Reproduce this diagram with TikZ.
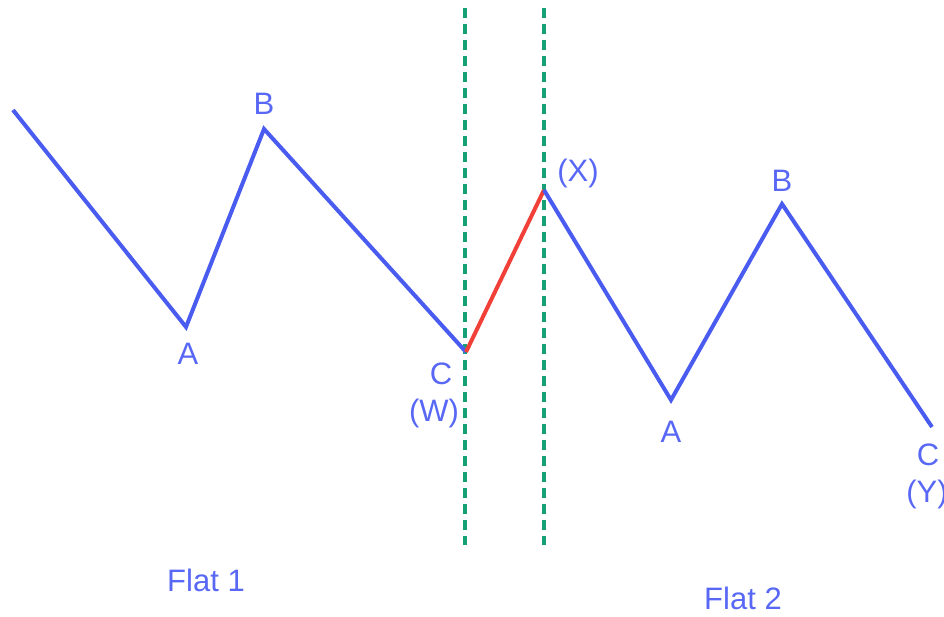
\documentclass[tikz,border=0pt]{standalone}
\usepackage{fontspec}
\setmainfont{Liberation Sans}
\usetikzlibrary{positioning}

\definecolor{waveblue}{RGB}{74,92,240}
\definecolor{labelblue}{RGB}{88,104,245}
\definecolor{wavered}{RGB}{240,64,56}
\definecolor{splitgreen}{RGB}{22,160,118}

\begin{document}
\begin{tikzpicture}[
        x=1pt, y=-1pt,
        wave/.style={draw=waveblue, line width=4pt, line join=miter},
        link/.style={draw=wavered, line width=4pt},
        split/.style={draw=splitgreen, line width=4pt, dash pattern=on 10pt off 6pt},
        lbl/.style={text=labelblue, font=\fontsize{31}{33}\selectfont, inner sep=0pt}
        ]
        \useasboundingbox (0,0) rectangle (944,617);

        % wave points
        \coordinate (s) at (13,110);
        \coordinate (a1) at (186,327);
        \coordinate (b1) at (264,129);
        \coordinate (w) at (466,352);
        \coordinate (x) at (544,190);
        \coordinate (a2) at (671,400);
        \coordinate (b2) at (782,204);
        \coordinate (y) at (932,427);

        % split lines
        \coordinate (l1top) at (465,8);
        \coordinate (l1bot) at (465,545);
        \coordinate (l2top) at (544,8);
        \coordinate (l2bot) at (544,545);
        \path[split] (l1top) -- (l1bot);
        \path[split] (l2top) -- (l2bot);

        \path[wave] (s) -- (a1) -- (b1) -- (w);
        \path[link] (w) -- (x);
        \path[wave] (x) -- (a2) -- (b2) -- (y);

        % labels
        \node[lbl] (lb1) at (264,104) {B};
        \node[lbl] (la1) at (188,354) {A};
        \node[lbl] (lc1) at (441,374) {C};
        \node[lbl] (lw) at (434,413) {(W)};
        \node[lbl] (lx) at (578,173) {(X)};
        \node[lbl] (lb2) at (782,181) {B};
        \node[lbl] (la2) at (671,432) {A};
        \node[lbl] (lc2) at (928,455) {C};
        \node[lbl] (ly) at (927,494) {(Y)};
        \node[lbl] (flat1) at (206,580) {Flat 1};
        \node[lbl] (flat2) at (743,598) {Flat 2};
      \end{tikzpicture}
\end{document}
